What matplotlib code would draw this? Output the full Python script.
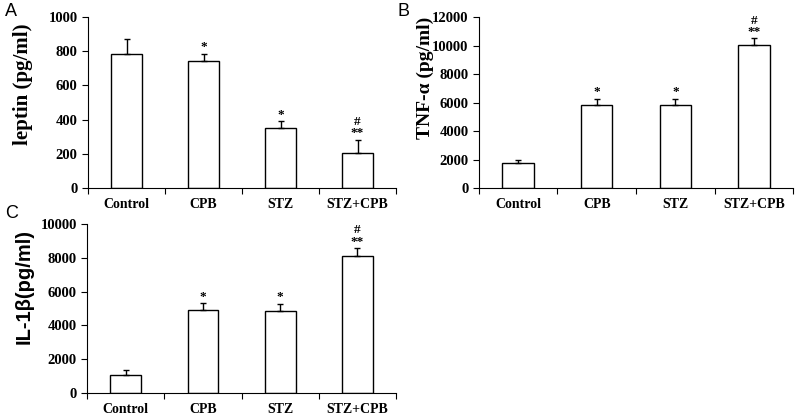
import matplotlib

matplotlib.use("Agg")

import matplotlib.pyplot as plt
import numpy as np

groups = ["Control", "CPB", "STZ", "STZ+CPB"]

leptin_mean = [785, 745, 350, 205]
leptin_err = [85, 40, 40, 75]
leptin_marks = ["", "*", "*", "#\n**"]

tnf_mean = [1750, 5850, 5800, 10050]
tnf_err = [250, 400, 450, 450]
tnf_marks = ["", "*", "*", "#\n**"]

il1b_mean = [1080, 4900, 4850, 8100]
il1b_err = [270, 400, 400, 450]
il1b_marks = ["", "*", "*", "#\n**"]

SERIF = "Liberation Serif"
SANS = "Liberation Sans"


def draw_panel(ax, means, errs, marks, ymax, ystep, ylabel, label_font, label_size, label_xy):
    x = np.arange(len(groups))
    ax.bar(x, means, width=0.4, color="white", edgecolor="black", linewidth=1.0, zorder=2)
    ax.errorbar(x, means, yerr=[np.zeros(len(errs)), errs], fmt="none",
                ecolor="black", elinewidth=1.0, capsize=2.5, capthick=1.0, zorder=3)
    for xi, m, e, s in zip(x, means, errs, marks):
        if s:
            ax.text(xi, m + e + ymax * 0.005, s, ha="center", va="bottom",
                    family=SERIF, fontweight="bold", fontsize=9.5, linespacing=0.9)
    ax.set_xlim(-0.5, len(groups) - 0.5)
    ax.set_ylim(0, ymax)
    ax.set_yticks(np.arange(0, ymax + 1, ystep))
    # group boundaries carry the tick marks, names sit between them
    ax.set_xticks(np.arange(len(groups) + 1) - 0.5)
    ax.set_xticklabels([])
    ax.set_xticks(x, minor=True)
    ax.set_xticklabels(groups, minor=True)
    ax.tick_params(axis="x", which="minor", length=0, pad=7)
    ax.tick_params(axis="x", which="major", direction="out", length=4)
    ax.tick_params(axis="y", direction="out", length=4)
    for lab in ax.get_xticklabels(minor=True):
        lab.set_family(SERIF)
        lab.set_fontweight("bold")
        lab.set_fontsize(10)
    for lab in ax.get_yticklabels():
        lab.set_family(SERIF)
        lab.set_fontweight("bold")
        lab.set_fontsize(10.5)
    for side in ("top", "right"):
        ax.spines[side].set_visible(False)
    ax.set_ylabel(ylabel, family=label_font, fontweight="bold", fontsize=label_size)
    ax.yaxis.set_label_coords(*label_xy)


fig = plt.figure(figsize=(8, 4.17), dpi=100)

ax_a = fig.add_axes([0.110, 0.549, 0.385, 0.410])
draw_panel(ax_a, leptin_mean, leptin_err, leptin_marks, 1000, 200,
           "leptin (pg/ml)", SERIF, 15, (-0.18, 0.61))

ax_b = fig.add_axes([0.5985, 0.549, 0.393, 0.410])
draw_panel(ax_b, tnf_mean, tnf_err, tnf_marks, 12000, 2000,
           "TNF-\u03b1 (pg/ml)", SERIF, 14, (-0.143, 0.645))

ax_c = fig.add_axes([0.109, 0.0576, 0.386, 0.4054])
draw_panel(ax_c, il1b_mean, il1b_err, il1b_marks, 10000, 2000,
           "IL-1\u03b2(pg/ml)", SANS, 14.5, (-0.173, 0.627))

fig.text(0.006, 0.992, "A", family=SANS, fontsize=13, va="top")
fig.text(0.497, 0.992, "B", family=SANS, fontsize=13, va="top")
fig.text(0.006, 0.508, "C", family=SANS, fontsize=13, va="top")

fig.savefig("out.png", dpi=100)
